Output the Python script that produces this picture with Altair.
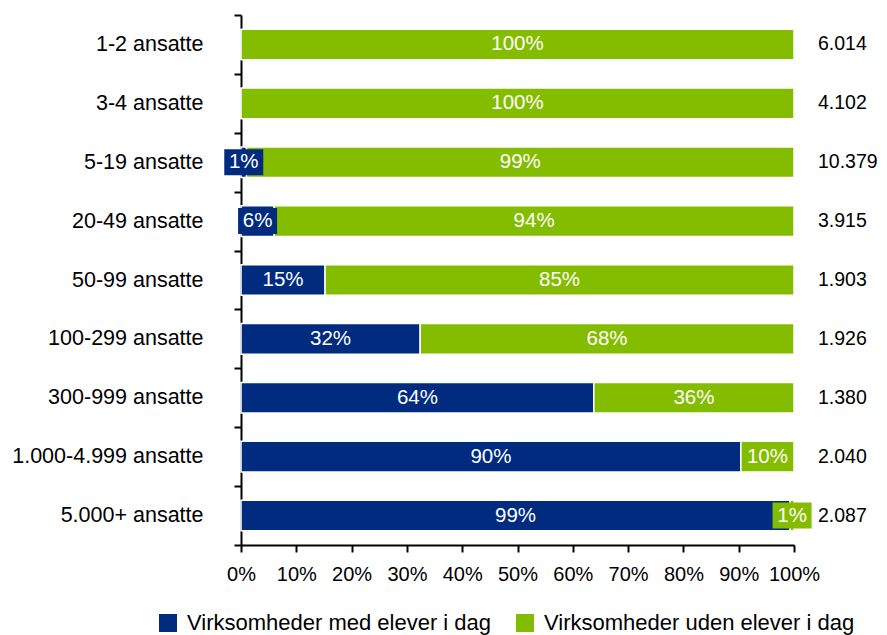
import altair as alt
import pandas as pd

categories = ["1-2 ansatte", "3-4 ansatte", "5-19 ansatte", "20-49 ansatte", "50-99 ansatte",
              "100-299 ansatte", "300-999 ansatte", "1.000-4.999 ansatte", "5.000+ ansatte"]
med_elever = [0, 0, 1, 6, 15.2, 32.4, 63.8, 90.4, 99.3]
uden_elever = [100, 100, 99, 94, 84.8, 67.6, 36.2, 9.6, 0.7]
antal = ["6.014", "4.102", "10.379", "3.915", "1.903", "1.926", "1.380", "2.040", "2.087"]
series = ["Virksomheder med elever i dag", "Virksomheder uden elever i dag"]
colors = ["#002B7F", "#84BC00"]
x_ticks = [0, 10, 20, 30, 40, 50, 60, 70, 80, 90, 100]

rows = []
for i, c in enumerate(categories):
    rows.append({"cat": c, "series": series[0], "value": med_elever[i], "ord": 0})
    rows.append({"cat": c, "series": series[1], "value": uden_elever[i], "ord": 1})
df = pd.DataFrame(rows)
df_cnt = pd.DataFrame({"cat": categories, "antal": antal})

FONT = "Liberation Sans"

y_enc = alt.Y("cat:N", sort=categories, title=None,
              scale=alt.Scale(paddingInner=0, paddingOuter=0),
              axis=alt.Axis(tickBand="extent", domainColor="black", domainWidth=2,
                            tickColor="black", tickWidth=2, tickSize=7,
                            labelPadding=31, labelFontSize=21.5, labelFont=FONT,
                            labelColor="black", labelLimit=400))

base = alt.Chart(df).transform_stack(
    stack="value", groupby=["cat"], as_=["v0", "v1"],
    sort=[alt.SortField("ord", order="ascending")]
).transform_calculate(mid="(datum.v0 + datum.v1) / 2")

color_scale = alt.Scale(domain=series, range=colors)

bars = base.mark_bar(stroke="white", strokeWidth=1.5, height={"band": 0.52}).encode(
    y=y_enc,
    x=alt.X("v0:Q", title=None, scale=alt.Scale(domain=[0, 100], nice=False),
            axis=alt.Axis(values=x_ticks, labelExpr="datum.value + '%'", grid=False,
                          domainColor="black", domainWidth=2, tickColor="black",
                          tickWidth=2, tickSize=7, labelPadding=12, labelFontSize=20,
                          labelFont=FONT, labelColor="black", labelFlush=False)),
    x2="v1:Q",
    color=alt.Color("series:N", scale=color_scale,
                    legend=alt.Legend(title=None, orient="none", legendX=-84, legendY=597,
                                      direction="horizontal", columns=2,
                                      symbolType="square", symbolSize=324,
                                      symbolStrokeWidth=0, labelFontSize=22,
                                      labelFont=FONT, labelColor="black",
                                      labelOffset=8, columnPadding=22, labelLimit=500)),
)

boxes = base.transform_filter("datum.value > 0").mark_point(
    shape="M-1,-0.667L1,-0.667L1,0.667L-1,0.667Z", size=39 * 39,
    filled=True, opacity=1, strokeWidth=0
).encode(
    y=alt.Y("cat:N", sort=categories),
    x=alt.X("mid:Q"),
    color=alt.Color("series:N", scale=color_scale, legend=None),
)

labels = base.transform_filter("datum.value > 0").transform_calculate(
    lbl="format(datum.value, '.0f') + '%'"
).mark_text(color="white", fontSize=20.5, font=FONT).encode(
    y=alt.Y("cat:N", sort=categories),
    x=alt.X("mid:Q"),
    text="lbl:N",
)

counts = alt.Chart(df_cnt).mark_text(align="left", dx=24, fontSize=19.5, font=FONT,
                                     color="black").encode(
    y=alt.Y("cat:N", sort=categories),
    x=alt.datum(100),
    text="antal:N",
)

chart = alt.layer(bars, boxes, labels, counts).properties(
    width=553, height=530,
    padding={"left": 233, "top": 7, "right": 85, "bottom": 92},
    autosize=alt.AutoSizeParams(type="none"),
).configure_view(stroke=None)

chart.save("out.html", embed_options={"renderer": "svg", "actions": False})
